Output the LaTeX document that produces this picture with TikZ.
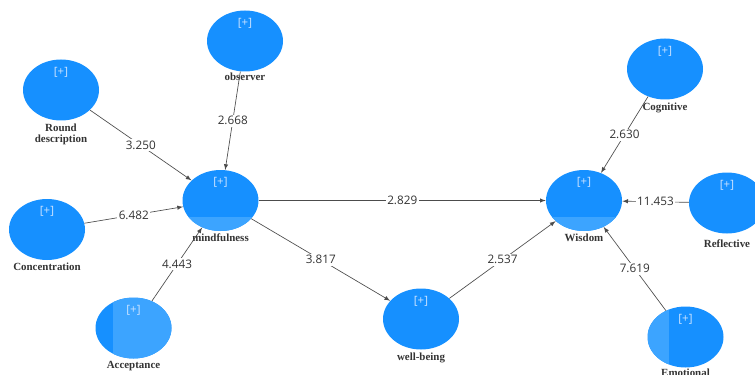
\documentclass[tikz,border=0pt]{standalone}
\usepackage{fontspec}
\setmainfont{Liberation Serif}
\newfontfamily\coeffont{Open Sans}
\usepackage{tikz}
\usetikzlibrary{shapes.geometric, arrows}
\tikzset{>=latex}
\definecolor{cblue}{RGB}{22, 144, 255}
\definecolor{cbluelit}{RGB}{60, 164, 255}
\definecolor{plustext}{RGB}{205, 228, 255}

\newcommand{\plusmark}{\node[plus] at ([yshift=-9.5pt]path picture bounding box.north) {[+]};}

\tikzset{
  construct/.style = {ellipse, fill = cblue, minimum width = 57pt, minimum height = 45.75pt,
    inner sep = 0pt, path picture = {\plusmark}},
  litbottom/.style = {path picture = {\fill[cbluelit] (path picture bounding box.south west)
    rectangle ([yshift = 10.5pt]path picture bounding box.south east); \plusmark}},
  litright/.style = {path picture = {\fill[cbluelit] ([xshift = 12.75pt]path picture bounding box.north west)
    rectangle (path picture bounding box.south east); \plusmark}},
  litleft/.style = {path picture = {\fill[cbluelit] (path picture bounding box.south west)
    rectangle ([xshift = 15.75pt]path picture bounding box.north west); \plusmark}},
  plus/.style = {text = plustext, font = \coeffont\fontsize{8.6}{9}\selectfont, inner sep = 0pt},
  cname/.style = {font = \bfseries\fontsize{8.2}{8.4}\selectfont, align = center, inner sep = 0pt,
    text = black!80},
  coef/.style = {fill = white, font = \coeffont\fontsize{8.8}{10}\selectfont, inner sep = 1.2pt,
    text = black!80},
  edge/.style = {->, draw = black!70, line width = 0.5pt}
}

\begin{document}
\begin{tikzpicture}[x = 0.75pt, y = -0.75pt]
\useasboundingbox (0, 0) rectangle (755, 374);

% first-order constructs
\node[construct, label = {[cname, label distance = 2pt]below:{Round\\description}}] (round) at (61, 90) {};
\node[construct, label = {[cname, label distance = 1pt]below:observer}] (observer) at (245, 41) {};
\node[construct, label = {[cname, label distance = 2pt]below:Concentration}] (concentration) at (47, 229.5) {};
\node[construct, litright, label = {[cname, label distance = 2pt]below:Acceptance}] (acceptance) at (133.5, 328) {};
\node[construct, label = {[cname, label distance = 2pt]below:Cognitive}] (cognitive) at (665, 69) {};
\node[construct, label = {[cname, label distance = 4pt]below:Reflective}] (reflective) at (727, 203) {};
\node[construct, litleft, label = {[cname, label distance = 1pt]below:Emotional}] (emotional) at (685.5, 337) {};

% second-order constructs
\node[construct, litbottom, label = {[cname, label distance = 2pt]below:mindfulness}] (mindfulness) at (220.5, 200.5) {};
\node[construct, litbottom, label = {[cname, label distance = 2pt]below:Wisdom}] (wisdom) at (584, 200.5) {};
\node[construct, label = {[cname, label distance = 2pt]below:well-being}] (wellbeing) at (421, 319) {};

% paths
\draw[edge] (round) -- node[coef] {3.250} (mindfulness);
\draw[edge] (observer) -- node[coef] {2.668} (mindfulness);
\draw[edge] (concentration) -- node[coef] {6.482} (mindfulness);
\draw[edge] (acceptance) -- node[coef] {4.443} (mindfulness);
\draw[edge] (mindfulness) -- node[coef] {2.829} (wisdom);
\draw[edge] (mindfulness) -- node[coef] {3.817} (wellbeing);
\draw[edge] (wellbeing) -- node[coef] {2.537} (wisdom);
\draw[edge] (cognitive) -- node[coef] {2.630} (wisdom);
\draw[edge] (reflective) -- node[coef] {11.453} (wisdom);
\draw[edge] (emotional) -- node[coef] {7.619} (wisdom);

\end{tikzpicture}
\end{document}
